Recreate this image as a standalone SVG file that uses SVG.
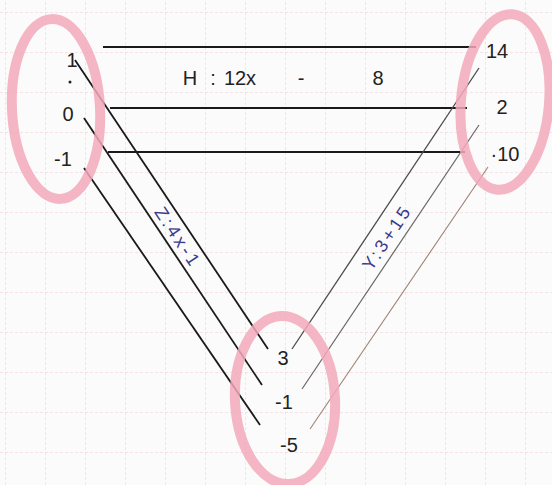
<svg xmlns="http://www.w3.org/2000/svg" width="552" height="485" viewBox="0 0 552 485">
<defs>
<pattern id="grid" x="5" y="12" width="40" height="40" patternUnits="userSpaceOnUse">
<path d="M0 0H40M0 0V40" fill="none" stroke="#f0ccd3" stroke-width="1" stroke-dasharray="3 2"/>
</pattern>
</defs>
<style>
.ring{fill:none;stroke:#f2a9bb;stroke-width:10;opacity:0.85}
.lbl{font-family:"Liberation Sans",Arial,sans-serif;font-size:20px;fill:#222;text-anchor:middle}
.eq{font-family:"Liberation Sans",Arial,sans-serif;font-size:18px;letter-spacing:3px;fill:#3b3a8c;text-anchor:middle}
.blk{stroke:#1a1a1a;stroke-width:1.8;fill:none}
.gr1{stroke:#4a4a4a;stroke-width:1.3;fill:none}
.gr2{stroke:#6a6666;stroke-width:1.2;fill:none}
.gr3{stroke:#a08276;stroke-width:1.1;fill:none}
</style>
<rect width="552" height="485" fill="#fcfbfb"/>
<rect width="552" height="485" fill="url(#grid)"/>
<g id="connectors">
<line class="blk" x1="103" y1="47" x2="476" y2="47"/>
<line class="blk" x1="110" y1="108" x2="467" y2="108"/>
<line class="blk" x1="108" y1="152" x2="465" y2="152"/>
<line class="blk" x1="75" y1="60" x2="268" y2="349"/>
<line class="blk" x1="84" y1="118" x2="262" y2="385"/>
<line class="blk" x1="84" y1="168" x2="260" y2="425"/>
<line class="gr1" x1="292" y1="349" x2="479" y2="68"/>
<line class="gr2" x1="302" y1="389" x2="479" y2="125"/>
<line class="gr3" x1="310" y1="429" x2="488" y2="167"/>
<text class="lbl" y="85" font-size="22"><tspan x="190">H</tspan><tspan x="213">:</tspan><tspan x="240">12x</tspan><tspan x="301">-</tspan><tspan x="378">8</tspan></text>
<text class="eq" transform="translate(177,238) rotate(56.3)" x="0" y="5">Z:4x-1</text>
<text class="eq" transform="translate(388,238) rotate(-56.3)" x="0" y="5">Y:3+15</text>
</g>
<g id="node-left">
<ellipse class="ring" cx="56" cy="109" rx="44" ry="90" transform="rotate(-3 56 109)"/>
<text class="lbl" x="72" y="67">1</text>
<circle cx="70" cy="82" r="1.5" fill="#222"/>
<text class="lbl" x="68" y="121">0</text>
<text class="lbl" x="63" y="166">-1</text>
</g>
<g id="node-right">
<ellipse class="ring" cx="505" cy="102" rx="44" ry="88" transform="rotate(5 505 102)"/>
<text class="lbl" x="497" y="58">14</text>
<text class="lbl" x="502" y="114">2</text>
<text class="lbl" x="505" y="161">·10</text>
</g>
<g id="node-bottom">
<ellipse class="ring" cx="285" cy="400" rx="50" ry="84" transform="rotate(-3 285 400)"/>
<text class="lbl" x="283" y="365">3</text>
<text class="lbl" x="284" y="409">-1</text>
<text class="lbl" x="289" y="452">-5</text>
</g>
</svg>
